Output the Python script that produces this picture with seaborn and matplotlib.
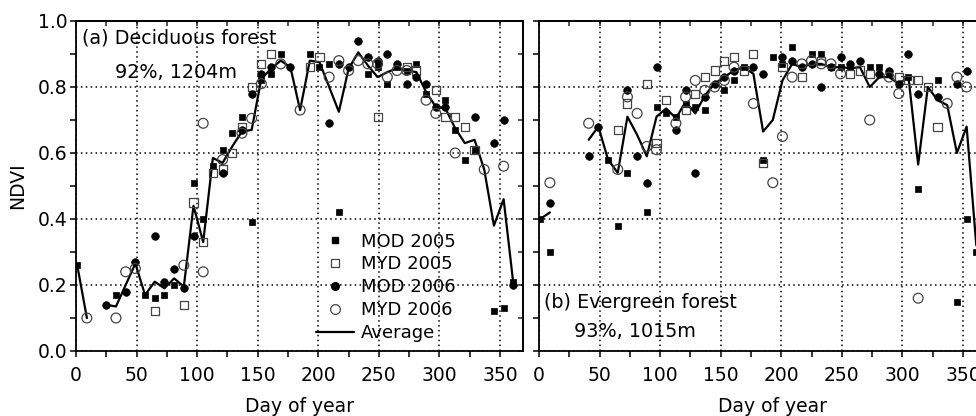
import numpy as np
import pandas as pd
import matplotlib
matplotlib.use('Agg')
from matplotlib import pyplot as plt
from matplotlib.lines import Line2D
from matplotlib.ticker import MultipleLocator, FormatStrFormatter
import seaborn as sns

# 8-day composite days used for the average curves
composite_days = [1, 9, 17, 25, 33, 41, 49, 57, 65, 73, 81, 89, 97, 105, 113, 121,
                  129, 137, 145, 153, 161, 169, 177, 185, 193, 201, 209, 217, 225,
                  233, 241, 249, 257, 265, 273, 281, 289, 297, 305, 313, 321, 329,
                  337, 345, 353, 361]

# ---- (a) Deciduous forest ----
a_mod05_day = [1, 33, 57, 65, 73, 81, 97, 105, 113, 121, 129, 137, 145, 153, 161, 169, 193,
               201, 209, 217, 241, 249, 257, 265, 273, 281, 289, 305, 313, 321, 329, 345, 353, 361]
a_mod05_ndvi = [0.26, 0.17, 0.17, 0.16, 0.17, 0.20, 0.51, 0.40, 0.56, 0.61, 0.66, 0.71, 0.39,
                0.82, 0.84, 0.90, 0.90, 0.86, 0.87, 0.42, 0.84, 0.86, 0.81, 0.86, 0.85, 0.87,
                0.78, 0.76, 0.67, 0.58, 0.61, 0.12, 0.13, 0.21]
a_myd05_day = [65, 89, 97, 105, 113, 121, 129, 137, 145, 153, 161, 193, 201, 249, 273, 281,
               297, 305, 313, 321, 329]
a_myd05_ndvi = [0.12, 0.14, 0.45, 0.33, 0.54, 0.55, 0.60, 0.68, 0.80, 0.87, 0.90, 0.86, 0.89,
                0.71, 0.86, 0.85, 0.79, 0.71, 0.71, 0.68, 0.61]
a_mod06_day = [25, 41, 49, 65, 73, 81, 89, 97, 121, 137, 145, 153, 161, 177, 209, 217, 225,
               233, 241, 249, 257, 265, 273, 281, 289, 297, 305, 329, 345, 353, 361]
a_mod06_ndvi = [0.14, 0.18, 0.27, 0.35, 0.21, 0.25, 0.19, 0.35, 0.54, 0.67, 0.78, 0.84, 0.86,
                0.86, 0.69, 0.87, 0.86, 0.94, 0.89, 0.88, 0.90, 0.87, 0.81, 0.83, 0.81, 0.74,
                0.74, 0.71, 0.63, 0.70, 0.20]
a_myd06_day = [9, 33, 41, 49, 89, 105, 105, 121, 137, 145, 153, 169, 185, 209, 217, 225, 233,
               241, 249, 257, 265, 273, 289, 297, 313, 337, 353]
a_myd06_ndvi = [0.10, 0.10, 0.24, 0.25, 0.26, 0.24, 0.69, 0.58, 0.66, 0.705, 0.81, 0.87, 0.73,
                0.83, 0.88, 0.85, 0.88, 0.87, 0.87, 0.83, 0.85, 0.85, 0.76, 0.72, 0.60, 0.55, 0.56]
a_average = [0.26, 0.10, np.nan, 0.14, 0.135, 0.20, 0.265, 0.17, 0.21, 0.19, 0.22, 0.195,
             0.44, 0.33, 0.585, 0.57, 0.62, 0.665, 0.67, 0.825, 0.855, 0.88, 0.86, 0.73,
             0.88, 0.875, 0.80, 0.725, 0.855, 0.905, 0.865, 0.83, 0.845, 0.857, 0.85, 0.845,
             0.785, 0.74, 0.735, 0.675, 0.63, 0.64, 0.55, 0.38, 0.46, 0.205]

# ---- (b) Evergreen forest ----
b_mod05_day = [1, 9, 57, 65, 73, 89, 97, 105, 113, 121, 129, 137, 153, 161, 169, 185, 193,
               201, 209, 225, 233, 241, 249, 257, 273, 281, 289, 305, 313, 329, 345, 353, 361]
b_mod05_ndvi = [0.40, 0.30, 0.58, 0.38, 0.54, 0.42, 0.74, 0.72, 0.71, 0.75, 0.74, 0.73, 0.79,
                0.82, 0.86, 0.58, 0.89, 0.87, 0.92, 0.90, 0.90, 0.86, 0.86, 0.86, 0.86, 0.86,
                0.84, 0.83, 0.49, 0.82, 0.15, 0.40, 0.30]
b_myd05_day = [65, 73, 89, 97, 105, 121, 129, 137, 145, 153, 161, 169, 177, 185, 201, 217,
               233, 257, 265, 273, 297, 305, 313, 321, 329]
b_myd05_ndvi = [0.67, 0.75, 0.81, 0.63, 0.76, 0.73, 0.78, 0.83, 0.85, 0.88, 0.89, 0.85, 0.90,
                0.57, 0.86, 0.83, 0.88, 0.84, 0.85, 0.84, 0.83, 0.82, 0.82, 0.80, 0.68]
b_mod06_day = [9, 41, 49, 73, 81, 89, 97, 113, 121, 129, 137, 145, 153, 161, 177, 185, 201,
               209, 217, 225, 233, 241, 249, 257, 265, 281, 289, 297, 305, 313, 329, 345, 353]
b_mod06_ndvi = [0.45, 0.59, 0.68, 0.79, 0.59, 0.51, 0.86, 0.67, 0.79, 0.54, 0.77, 0.81, 0.83,
                0.85, 0.86, 0.84, 0.89, 0.88, 0.86, 0.87, 0.80, 0.86, 0.89, 0.87, 0.88, 0.84,
                0.85, 0.81, 0.90, 0.78, 0.77, 0.81, 0.85]
b_myd06_day = [9, 41, 65, 73, 81, 89, 97, 113, 121, 129, 137, 145, 153, 161, 177, 193, 201,
               209, 217, 225, 233, 241, 249, 273, 289, 297, 313, 337, 345, 353]
b_myd06_ndvi = [0.51, 0.69, 0.55, 0.77, 0.72, 0.62, 0.61, 0.69, 0.77, 0.82, 0.79, 0.80, 0.82,
                0.86, 0.75, 0.51, 0.65, 0.83, 0.87, 0.88, 0.87, 0.87, 0.84, 0.70, 0.83, 0.78,
                0.16, 0.75, 0.83, 0.80]
b_average = [0.40, 0.42, np.nan, np.nan, np.nan, 0.64, 0.68, 0.58, 0.54, 0.71, 0.655, 0.59,
             0.71, 0.735, 0.705, 0.755, 0.72, 0.775, 0.81, 0.83, 0.85, 0.86, 0.84, 0.665,
             0.70, 0.82, 0.87, 0.86, 0.87, 0.87, 0.86, 0.86, 0.857, 0.86, 0.80, 0.83, 0.83,
             0.81, 0.83, 0.565, 0.80, 0.76, 0.745, 0.60, 0.68, 0.32]

series_labels = ['MOD 2005', 'MYD 2005', 'MOD 2006', 'MYD 2006']
series_style = {
    'MOD 2005': dict(marker='s', s=24, facecolor='black', edgecolor='black', linewidth=0.5),
    'MYD 2005': dict(marker='s', s=34, facecolor='none', edgecolor='#444444', linewidth=0.9),
    'MOD 2006': dict(marker='o', s=30, facecolor='black', edgecolor='black', linewidth=0.5),
    'MYD 2006': dict(marker='o', s=50, facecolor='none', edgecolor='#444444', linewidth=0.9),
}

sns.set_style('ticks')
plt.rcParams['font.family'] = ['DejaVu Sans']
plt.rcParams['text.color'] = 'black'
plt.rcParams['axes.labelcolor'] = 'black'


def draw_panel(ax, points, average):
    for label, (days, ndvi) in zip(series_labels, points):
        df = pd.DataFrame({'day': days, 'ndvi': ndvi})
        sns.scatterplot(data=df, x='day', y='ndvi', ax=ax, zorder=3, legend=False,
                        **series_style[label])
    avg = pd.DataFrame({'day': composite_days, 'ndvi': average})
    # break the curve where the composite is missing
    ok = avg['ndvi'].notna()
    seg = (~ok).cumsum()
    for _, part in avg[ok].groupby(seg[ok]):
        sns.lineplot(data=part, x='day', y='ndvi', ax=ax, color='black', linewidth=1.6,
                     zorder=2, sort=False)


def style_axis(ax, show_labels, xlabel_x):
    ax.set_xlim(0, 369)
    ax.set_ylim(0, 1.0)
    ax.xaxis.set_major_locator(MultipleLocator(50))
    ax.xaxis.set_minor_locator(MultipleLocator(25))
    ax.yaxis.set_major_locator(MultipleLocator(0.2))
    ax.yaxis.set_minor_locator(MultipleLocator(0.1))
    ax.yaxis.set_major_formatter(FormatStrFormatter('%.1f'))
    ax.grid(which='major', linestyle=(0, (1, 2.2)), color='black', linewidth=1.1)
    ax.tick_params(which='both', direction='out', length=4, width=1.1, colors='black',
                   labelsize=13.5, top=False, right=False)
    ax.tick_params(axis='x', pad=7)
    ax.tick_params(axis='y', pad=2)
    if not show_labels:
        ax.tick_params(axis='y', labelleft=False)
    for sp in ax.spines.values():
        sp.set_visible(True)
        sp.set_color('black')
        sp.set_linewidth(1.3)
    top = ax.secondary_xaxis('top')
    top.xaxis.set_major_locator(MultipleLocator(50))
    top.xaxis.set_minor_locator(MultipleLocator(25))
    top.tick_params(which='both', direction='in', length=3.5, width=1.1, labeltop=False)
    top.spines['top'].set_linewidth(1.3)
    right = ax.secondary_yaxis('right')
    right.yaxis.set_major_locator(MultipleLocator(0.2))
    right.yaxis.set_minor_locator(MultipleLocator(0.1))
    right.tick_params(which='both', direction='in', length=3.5, width=1.1, labelright=False)
    right.spines['right'].set_linewidth(1.3)
    ax.set_xlabel('Day of year', fontsize=13.5)
    ax.xaxis.set_label_coords(xlabel_x, -0.14)
    if show_labels:
        ax.set_ylabel('NDVI', fontsize=13.5)
        ax.yaxis.set_label_coords(-0.11, 0.5)
    else:
        ax.set_ylabel('')


fig = plt.figure(figsize=(9.76, 4.16), dpi=100)
ax_a = fig.add_axes([76 / 976, 65 / 416, 447 / 976, 330 / 416])
ax_b = fig.add_axes([539 / 976, 65 / 416, 447 / 976, 330 / 416])

draw_panel(ax_a, [(a_mod05_day, a_mod05_ndvi), (a_myd05_day, a_myd05_ndvi),
                  (a_mod06_day, a_mod06_ndvi), (a_myd06_day, a_myd06_ndvi)], a_average)
draw_panel(ax_b, [(b_mod05_day, b_mod05_ndvi), (b_myd05_day, b_myd05_ndvi),
                  (b_mod06_day, b_mod06_ndvi), (b_myd06_day, b_myd06_ndvi)], b_average)

style_axis(ax_a, True, 0.5)
style_axis(ax_b, False, 0.523)

ax_a.text(0.013, 0.948, '(a) Deciduous forest', transform=ax_a.transAxes,
          ha='left', va='center', fontsize=13.8)
ax_a.text(0.087, 0.845, '92%, 1204m', transform=ax_a.transAxes,
          ha='left', va='center', fontsize=13.8)
ax_b.text(0.011, 0.148, '(b) Evergreen forest', transform=ax_b.transAxes,
          ha='left', va='center', fontsize=13.8)
ax_b.text(0.078, 0.058, '93%, 1015m', transform=ax_b.transAxes,
          ha='left', va='center', fontsize=13.8)

handles = [
    Line2D([0], [0], linestyle='', marker='s', markersize=5, color='black'),
    Line2D([0], [0], linestyle='', marker='s', markersize=6, markerfacecolor='none',
           markeredgecolor='#444444', markeredgewidth=0.9),
    Line2D([0], [0], linestyle='', marker='o', markersize=5.5, color='black'),
    Line2D([0], [0], linestyle='', marker='o', markersize=7, markerfacecolor='none',
           markeredgecolor='#444444', markeredgewidth=0.9),
    Line2D([0], [0], color='black', linewidth=1.6),
]
ax_a.legend(handles, series_labels + ['Average'], loc='lower left',
            bbox_to_anchor=(0.537, 0.027), frameon=False, fontsize=13,
            handlelength=2.1, handletextpad=0.4, labelspacing=0.27,
            borderpad=0, borderaxespad=0)

fig.savefig('out.png', dpi=100)
